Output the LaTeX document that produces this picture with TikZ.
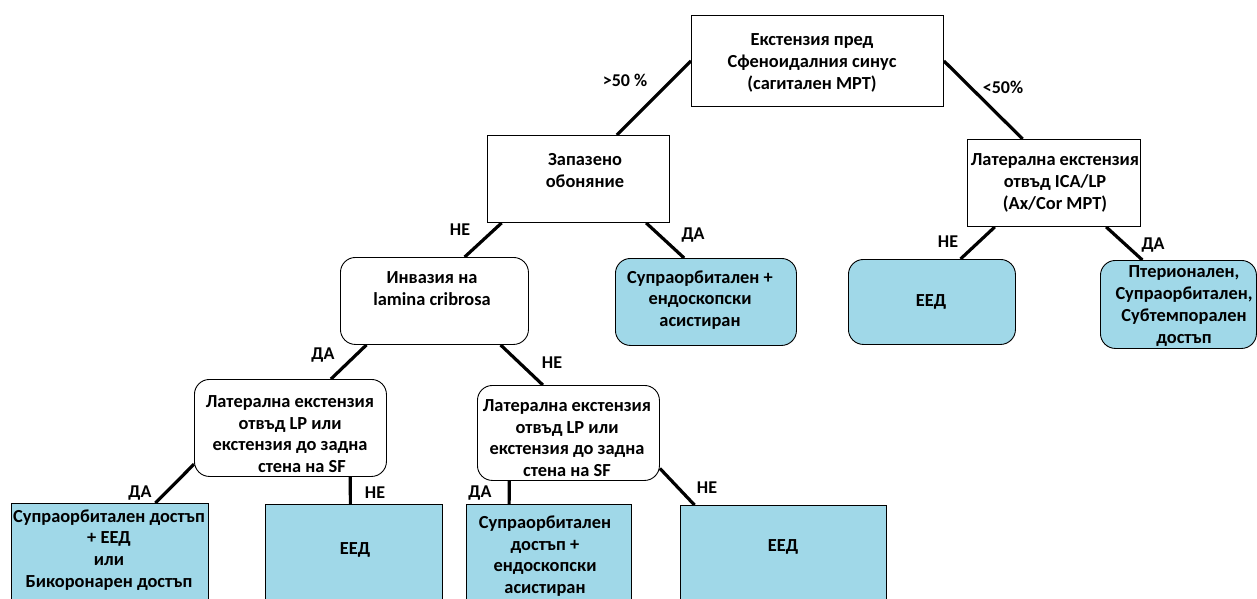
\documentclass[tikz,border=0pt]{standalone}
\usepackage{fontspec}
\setmainfont{Carlito}
\usetikzlibrary{calc}
\definecolor{boxblue}{RGB}{160,216,232}
\pgfdeclarelayer{background}
\pgfsetlayers{background,main}
\tikzset{
 plainbox/.style={draw=black, line width=0.9pt, fill=white, inner sep=0pt, anchor=north west},
 roundbox/.style={plainbox, rounded corners=15pt},
 bluebox/.style={plainbox, fill=boxblue},
 blueround/.style={roundbox, fill=boxblue},
 txt/.style={font=\bfseries\fontsize{18.4}{21.8}\selectfont, align=center, inner sep=0pt},
 lbl/.style={font=\bfseries\fontsize{18}{20}\selectfont, inner sep=0pt},
 conn/.style={line width=3.2pt},
}
\begin{document}
\begin{tikzpicture}[x=1pt,y=-1pt]
\useasboundingbox (0,0) rectangle (1257,598);
\clip (0,0) rectangle (1257,598);

% boxes
\node[plainbox, minimum width=252pt, minimum height=91pt] (top) at (691,15) {};
\node[plainbox, minimum width=182pt, minimum height=87pt] (zap) at (487,135) {};
\node[plainbox, minimum width=173pt, minimum height=87pt] (ica) at (967,139) {};
\node[blueround, minimum width=167pt, minimum height=85pt] (eedR) at (848,259) {};
\node[blueround, minimum width=156pt, minimum height=88pt] (pter) at (1100,260) {};
\node[roundbox, minimum width=188pt, minimum height=87pt] (inv) at (340,257) {};
\node[blueround, minimum width=181pt, minimum height=87pt] (mid) at (615,258) {};
\node[roundbox, minimum width=192pt, minimum height=97pt] (Lone) at (194,379) {};
\node[roundbox, minimum width=182pt, minimum height=95pt] (Ltwo) at (477,385) {};
\node[bluebox, minimum width=197pt, minimum height=110pt] (LL) at (11,503) {};
\node[bluebox, minimum width=177pt, minimum height=110pt] (eedM) at (265,504) {};
\node[bluebox, minimum width=165pt, minimum height=110pt] (supB) at (466,504) {};
\node[bluebox, minimum width=206pt, minimum height=110pt] (eedB) at (680,505) {};

% texts
\node[txt] (ttop) at (812,63) {Екстензия пред\\Сфеноидалния синус\\(сагитален МРТ)};
\node[txt] (tzap) at (585,170.5) {Запазено\\обоняние};
\node[txt] (tica) at (1055,183) {Латерална екстензия\\отвъд ICA/LP\\(Ax/Cor МРТ)};
\node[txt] (teedR) at (931,302) {ЕЕД};
\node[txt] (tpter) at (1184,306) {Птерионален,\\Супраорбитален,\\Субтемпорален\\достъп};
\node[txt] (tinv) at (432,288.5) {Инвазия на\\lamina cribrosa};
\node[txt] (tmid) at (700,300) {Супраорбитален +\\ендоскопски\\асистиран};
\node[txt] (tLone) at (290,434) {Латерална екстензия\\отвъд LP или\\екстензия до задна\\\hspace*{24pt}стена на SF};
\node[txt] (tLtwo) at (567,438) {Латерална екстензия\\отвъд LP или\\екстензия до задна\\стена на SF};
\node[txt] (tLL) at (109,550) {Супраорбитален достъп\\+ ЕЕД\\или\\Бикоронарен достъп};
\node[txt] (teedM) at (355,550) {ЕЕД};
\node[txt] (tsupB) at (545,556) {Супраорбитален\\достъп +\\ендоскопски\\асистиран};
\node[txt] (teedB) at (783,547) {ЕЕД};

% labels
\node[lbl] (l1) at (625,80) {>50 \%};
\node[lbl] (l2) at (1003,87) {<50\%};
\node[lbl] (l3) at (460,230) {НЕ};
\node[lbl] (l4) at (693,235) {ДА};
\node[lbl] (l5) at (948,242) {НЕ};
\node[lbl] (l6) at (1153,245) {ДА};
\node[lbl] (l7) at (323,355) {ДА};
\node[lbl] (l8) at (552,363) {НЕ};
\node[lbl] (l9) at (140,493) {ДА};
\node[lbl] (l10) at (375,493) {НЕ};
\node[lbl] (l11) at (480,493) {ДА};
\node[lbl] (l12) at (707,488) {НЕ};

% connectors
\begin{pgfonlayer}{background}
\fill[white] (0,0) rectangle (1257,598);
\draw[conn] (top.west) -- ($(zap.north west)!0.71!(zap.north east)$);
\draw[conn] (top.east) -- ($(ica.north west)!0.32!(ica.north east)$);
\draw[conn] ($(zap.south west)!0.08!(zap.south east)$) -- ($(inv.north west)!0.66!(inv.north east)$);
\draw[conn] ($(zap.south west)!0.87!(zap.south east)$) -- ($(mid.north west)!0.38!(mid.north east)$);
\draw[conn] ($(ica.south west)!0.16!(ica.south east)$) -- ($(eedR.north west)!0.67!(eedR.north east)$);
\draw[conn] ($(ica.south west)!0.80!(ica.south east)$) -- ($(pter.north west)!0.27!(pter.north east)$);
\draw[conn] ($(inv.south west)!0.14!(inv.south east)$) -- ($(Lone.north west)!0.71!(Lone.north east)$);
\draw[conn] ($(inv.south west)!0.85!(inv.south east)$) -- ($(Ltwo.north west)!0.36!(Ltwo.north east)$);
\draw[conn] ($(Lone.north west)!0.87!(Lone.south west)$) -- ($(LL.north west)!0.73!(LL.north east)$);
\draw[conn] ($(Lone.south west)!0.81!(Lone.south east)$) -- ($(eedM.north west)!0.48!(eedM.north east)$);
\draw[conn] ($(Ltwo.south west)!0.176!(Ltwo.south east)$) -- ($(supB.north west)!0.26!(supB.north east)$);
\draw[conn] ($(Ltwo.north east)!0.87!(Ltwo.south east)$) -- ($(eedB.north west)!0.07!(eedB.north east)$);
\end{pgfonlayer}
\end{tikzpicture}
\end{document}
